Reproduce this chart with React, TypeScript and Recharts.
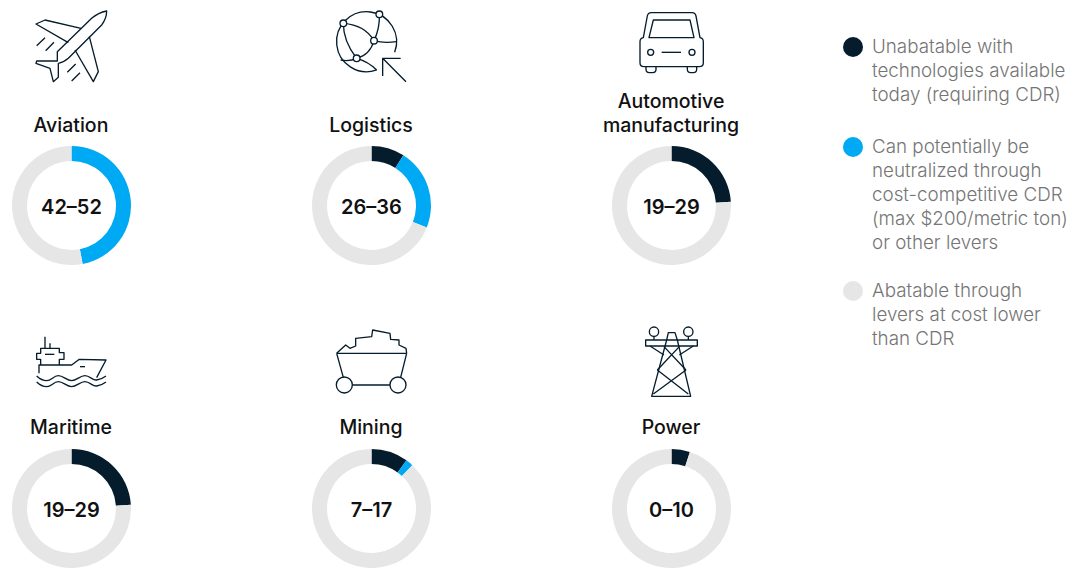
import React from 'react';
import { Cell, Label, Pie, PieChart } from 'recharts';

const sectors = ['Aviation', 'Logistics', 'Automotive manufacturing', 'Maritime', 'Mining', 'Power'];
const ranges = ['42–52', '26–36', '19–29', '19–29', '7–17', '0–10'];

const unabatable = [0, 9, 24, 24, 10, 5];
const neutralizable = [47, 22, 0, 0, 2, 0];
const abatable = [53, 69, 76, 76, 88, 95];

const colors = ['#051C2C', '#00A9F4', '#E6E6E6'];

const legendItems = [
    ['Unabatable with', 'technologies available', 'today (requiring CDR)'],
    ['Can potentially be', 'neutralized through', 'cost-competitive CDR', '(max $200/metric ton)', 'or other levers'],
    ['Abatable through', 'levers at cost lower', 'than CDR'],
];

const FONT = 'Inter, "Noto Sans", sans-serif';

// icons are traced at 3x, so each group gets scaled down by a third
const Icon: React.FC<{ x: number; y: number; children: React.ReactNode }> = ({ x, y, children }) => (
    <g transform={`translate(${x} ${y}) scale(0.3333)`} fill="none" stroke="#051C2C" strokeWidth={4} strokeLinejoin="round">
        {children}
    </g>
);

const Icons = () => (
    <svg width={1082} height={568} style={{ position: 'absolute', left: 0, top: 0 }}>
        {/* plane */}
        <Icon x={0} y={0}>
            <path d="M320 33 Q295 38 275 55 L172 155 L172 183 L110 183 L108 190 L150 205 L160 245 L175 232 L175 190 Q190 188 205 175 L305 75 Q320 55 320 33 Z" />
            <path d="M243 85 L135 60 L108 72 L205 128" />
            <path d="M268 110 L295 215 L280 245 L225 150" />
            <path d="M110 137 L135 113 M137 152 L162 127 M202 217 L227 192 M215 243 L240 218" />
        </Icon>
        {/* globe with arrow */}
        <Icon x={300} y={0}>
            <path d="M230 210 A90 90 0 1 1 284 157" />
            <path d="M130 70 Q195 75 222 122 M130 70 Q130 125 170 175 M238 43 Q240 85 222 122 M222 122 Q210 165 170 175 M222 122 Q250 130 290 125 M170 175 Q150 185 122 180 M170 175 Q205 185 230 210" />
            <circle cx={238} cy={43} r={10} fill="#fff" />
            <circle cx={130} cy={70} r={10} fill="#fff" />
            <circle cx={222} cy={122} r={10} fill="#fff" />
            <circle cx={170} cy={175} r={10} fill="#fff" />
            <path d="M302 175 L248 175 L248 228 M248 175 L318 245" />
        </Icon>
        {/* car */}
        <Icon x={600} y={0}>
            <path d="M120 125 Q120 115 130 113 L142 48 Q144 38 154 38 L276 38 Q286 38 288 48 L300 113 Q310 115 310 125 L310 188 Q310 200 298 200 L132 200 Q120 200 120 188 Z" />
            <path d="M147 113 L160 60 L270 60 L282 113 Z" />
            <circle cx={152} cy={157} r={9} />
            <circle cx={276} cy={157} r={9} />
            <path d="M185 157 L243 157" />
            <path d="M138 200 L138 208 Q138 218 148 218 L158 218 Q168 218 168 208 L168 200" />
            <path d="M262 200 L262 208 Q262 218 272 218 L280 218 Q290 218 290 208 L290 200" />
        </Icon>
        {/* ship */}
        <Icon x={0} y={320}>
            <path d="M135 50 L135 85 M150 70 L150 85" />
            <path d="M122 135 L122 118 L110 118 L110 100 L122 100 L122 85 L178 85 L178 98 L192 98 L192 118 L178 118 L178 135" />
            <path d="M135 103 L163 103" />
            <path d="M117 160 L117 135 L215 135 L238 118 L318 120 L290 173" />
            <path d="M240 140 L255 140" />
            <path d="M110 168 Q125 182 140 182 C155 182 160 167 175 167 C190 167 200 182 215 182 C230 182 240 167 255 167 C270 167 278 182 290 180 Q305 178 318 168" />
            <path d="M110 186 Q125 200 140 200 C155 200 160 185 175 185 C190 185 200 200 215 200 C230 200 240 185 255 185 C270 185 278 200 290 198 Q305 196 318 186" />
        </Icon>
        {/* mine cart */}
        <Icon x={300} y={320}>
            <path d="M110 100 L137 75 L150 85 L167 78 L167 55 L215 50 L218 30 L270 40 L272 58 L297 60 L297 75 L318 85 L320 100" />
            <path d="M110 100 L320 100 M110 100 L130 172 M320 100 L302 172 M157 195 L270 195" />
            <circle cx={133} cy={195} r={24} />
            <circle cx={294} cy={195} r={24} />
        </Icon>
        {/* pylon */}
        <Icon x={600} y={320}>
            <circle cx={162} cy={35} r={14} />
            <circle cx={265} cy={35} r={14} />
            <path d="M162 49 L162 60 M265 49 L265 60" />
            <path d="M137 60 L292 60 L292 78 L137 78 Z" />
            <path d="M200 60 L205 38 L225 38 L232 60" />
            <path d="M200 60 L155 229 L272 229 L232 60" />
            <path d="M150 78 L192 105 M280 78 L238 105" />
            <path d="M192 80 L258 150 M238 80 L172 150" />
            <path d="M172 150 L265 222 M258 150 L160 222" />
        </Icon>
    </svg>
);

const SectorTitle: React.FC<{ index: number }> = ({ index }) => {
    const words = sectors[index] === 'Automotive manufacturing' ? ['Automotive', 'manufacturing'] : [sectors[index]];
    const col = index % 3;
    const row = Math.floor(index / 3);
    return (
        <div style={{
            position: 'absolute', left: col * 300 + 71 - 90, width: 180, textAlign: 'center',
            top: (row === 0 ? 137 : 439) - words.length * 24, fontSize: 19.5, lineHeight: '24px', fontWeight: 500,
            color: '#111', fontFamily: FONT,
        }}>
            {words.map((w) => <div key={w}>{w}</div>)}
        </div>
    );
};

const Donut: React.FC<{ index: number }> = ({ index }) => {
    const data = [
        { name: 'unabatable', value: unabatable[index] },
        { name: 'neutralizable', value: neutralizable[index] },
        { name: 'abatable', value: abatable[index] },
    ];
    const col = index % 3;
    const row = Math.floor(index / 3);
    return (
        <div style={{ position: 'absolute', left: 12 + col * 300, top: 146 + row * 303 }}>
            <PieChart width={119} height={119} margin={{ top: 0, right: 0, bottom: 0, left: 0 }}>
                <Pie
                    data={data}
                    dataKey="value"
                    cx="50%"
                    cy="50%"
                    innerRadius={44.5}
                    outerRadius={59.5}
                    startAngle={90}
                    endAngle={-270}
                    stroke="none"
                    isAnimationActive={false}
                >
                    {data.map((d, i) => <Cell key={d.name} fill={colors[i]} />)}
                    <Label value={ranges[index]} position="center" dy={1} fontSize={20} fontWeight={600} fill="#111" fontFamily={FONT} />
                </Pie>
            </PieChart>
        </div>
    );
};

const legendTops = [35, 135, 279];

const App = () => (
    <div style={{ position: 'absolute', left: 0, top: 0, width: 1082, height: 568, overflow: 'hidden', background: '#fff' }}>
        <Icons />
        {sectors.map((s, i) => <SectorTitle key={s} index={i} />)}
        {sectors.map((s, i) => <Donut key={s} index={i} />)}
        {legendItems.map((lines, i) => (
            <div key={lines[0]} style={{ position: 'absolute', left: 843, top: legendTops[i], display: 'flex' }}>
                <div style={{ width: 20, height: 20, borderRadius: 10, marginTop: 1.5, background: colors[i] }} />
                <div style={{ marginLeft: 9, fontSize: 18.8, lineHeight: '24px', fontWeight: 300, color: '#757575', fontFamily: FONT, whiteSpace: 'nowrap' }}>
                    {lines.map((l) => <div key={l}>{l}</div>)}
                </div>
            </div>
        ))}
    </div>
);

export default App;
